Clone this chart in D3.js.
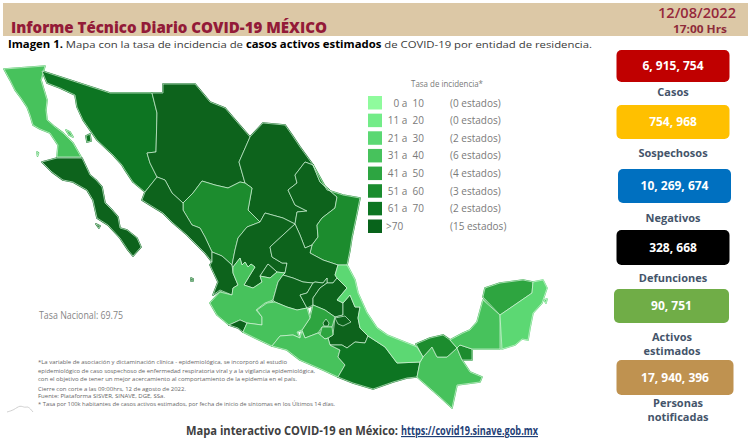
<!DOCTYPE html>
<html lang="es"><head><meta charset="utf-8">
<script src="https://cdn.jsdelivr.net/npm/d3@7/dist/d3.min.js"></script>
<style>html,body{margin:0;padding:0;background:#fff}svg{display:block}text{font-family:"Open Sans",sans-serif}</style>
</head><body><svg id="c" width="750" height="445"><defs><filter id="soft" x="-2%" y="-2%" width="104%" height="104%"><feGaussianBlur stdDeviation="0.45"/></filter></defs></svg>
<script>
// ---- data ----
const headerTitle = "Informe Técnico Diario COVID-19 MÉXICO";
const reportDate = "12/08/2022";
const reportHour = "17:00 Hrs";
const legendTitle = "Tasa de incidencia*";
const legendRanges = ["0 a  10","11 a  20","21 a  30","31 a  40","41 a  50","51 a  60","61 a  70",">70"];
const legendCounts = [0,0,2,6,4,3,2,15];
const legendColors = ["#8ffb9d","#73ec88","#5bd873","#47c25c","#2da541","#1a8c2e","#0d7522","#08631b"];
const nationalRate = "Tasa Nacional: 69.75";
const footerText = "Mapa interactivo COVID-19 en México:";
const footerLink = "https://covid19.sinave.gob.mx";
const cardValues = ["6, 915, 754","754, 968","10, 269, 674","328, 668","90, 751","17, 940, 396"];
const cardLabels = [["Casos"],["Sospechosos"],["Negativos"],["Defunciones"],["Activos","estimados"],["Personas","notificadas"]];
const cardColors = ["#c00000","#ffc000","#0070c0","#000000","#70ad47","#bf9250"];
const notes = [
 "*La variable de asociación y dictaminación clínica - epidemiológica, se incorporó al estudio",
 "epidemiológico de caso sospechoso de enfermedad respiratoria viral y a la vigilancia epidemiológica,",
 "con el objetivo de tener un mejor acercamiento al comportamiento de la epidemia en el país.",
 "Cierre con corte a las 09:00hrs, 12 de agosto de 2022.",
 "Fuente: Plataforma SISVER, SINAVE, DGE, SSa.",
 "* Tasa por 100k habitantes de casos activos estimados, por fecha de inicio de síntomas en los Últimos 14 días."
];
// Map geometry: quantized rings with a transform to lon/lat, TopoJSON style
const mapTransform = {scale:[0.0556,-0.054], translate:[-117.5,36.24]};
const stateNames = ["Baja California","Baja California Sur","Sonora","Chihuahua","Coahuila","Nuevo León","Tamaulipas","Durango","Sinaloa","Nayarit","Zacatecas","Aguascalientes","San Luis Potosí","Jalisco","Colima","Guanajuato","Querétaro","Hidalgo","Puebla","Tlaxcala","México","Morelos","Ciudad de México","Michoacán","Guerrero","Oaxaca","Chiapas","Tabasco","Campeche","Yucatán","Quintana Roo","Veracruz"];
const stateLevels = [3,7,6,7,7,7,5,5,7,7,7,7,7,3,7,7,7,7,7,7,4,4,7,3,3,6,3,5,3,4,2,2];
const stateRings = [
 [[[4,69],[45,66],[41,80],[44,90],[47,100],[46,110],[47,120],[55,127],[63,133],[73,143],[77,150],[81,157],[57,157],[58,145],[50,133],[40,129],[33,125],[30,115],[27,107],[21,98],[15,90],[10,80]],[[66,130],[70,132],[73,137],[69,135]],[[37,152],[38.5,153],[37.5,156]]],
 [[[42,162],[57,158],[82,158],[90,175],[96,180],[102,187],[105,203],[112,210],[118,217],[120,228],[127,230],[137,238],[141,247],[133,256],[128,250],[120,238],[108,225],[97,218],[93,200],[87,190],[73,182],[63,180],[52,172]],[[96,224],[100,226],[99,228]]],
 [[[42,71],[110,93],[152,93],[157,113],[156,152],[147,153],[150,163],[157,177],[145,192],[133,182],[125,170],[122,165],[113,155],[97,140],[90,130],[83,120],[77,107],[75,95],[60,88],[47,83]],[[86,136],[90,134],[91,141],[87,142]]],
 [[[152,93],[163,93],[163,84],[195,84],[210,102],[225,108],[237,122],[250,137],[239,162],[245,183],[240,182],[228,188],[215,185],[202,181],[193,193],[183,203],[172,193],[165,180],[157,177],[150,163],[147,153],[156,152],[157,113]]],
 [[[250,137],[263,123],[285,125],[292,135],[300,147],[313,165],[305,162],[295,175],[297,183],[288,190],[295,205],[307,211],[297,212],[295,224],[283,218],[265,213],[260,222],[248,210],[252,188],[245,183],[239,162]]],
 [[[313,165],[320,182],[337,197],[335,208],[322,218],[317,225],[318,237],[312,245],[305,248],[300,235],[295,224],[297,212],[307,211],[295,205],[288,190],[297,183],[295,175],[305,162]]],
 [[[313,165],[323,183],[327,190],[343,195],[360,198],[357,213],[352,237],[350,250],[347,265],[338,265],[323,260],[310,253],[312,245],[318,237],[317,225],[322,218],[335,208],[337,197],[320,182]]],
 [[[183,203],[193,193],[202,181],[215,185],[228,188],[240,182],[245,183],[252,188],[248,210],[260,222],[247,227],[238,238],[235,250],[232,265],[222,256],[212,252],[205,237],[200,228],[192,225],[183,210]]],
 [[[145,192],[157,177],[165,180],[172,193],[183,203],[183,210],[192,225],[200,228],[205,237],[212,252],[212,262],[205,253],[187,235],[173,223],[163,213],[150,205],[142,200]]],
 [[[212,262],[212,252],[222,256],[232,265],[233,273],[238,285],[233,288],[232,295],[220,290],[213,295],[218,282],[210,265]],[[191,278],[193,279],[193,281],[191,281]]],
 [[[260,222],[265,213],[283,218],[295,224],[283,235],[270,247],[272,257],[282,263],[287,263],[285,273],[277,272],[268,264],[260,276],[262,282],[253,288],[244,285],[250,275],[255,267],[251,264],[248,267],[245,262],[242,265],[240,258],[233,267],[232,265],[235,250],[238,238],[247,227]]],
 [[[268,264],[277,272],[270,278],[260,276]]],
 [[[295,224],[300,235],[305,248],[312,245],[310,253],[323,260],[338,265],[335,275],[337,278],[333,283],[327,283],[327,278],[323,283],[315,282],[313,283],[303,282],[293,278],[283,275],[285,273],[287,263],[282,263],[272,257],[270,247],[283,235]]],
 [[[233,267],[240,258],[242,265],[245,262],[248,267],[251,264],[255,267],[250,275],[244,285],[253,288],[262,282],[260,276],[270,278],[277,272],[285,273],[283,275],[278,282],[273,300],[265,303],[256,310],[262,317],[262,325],[247,323],[240,320],[229,325],[217,315],[210,303],[220,292],[232,295],[233,288],[238,285],[233,273]]],
 [[[229,325],[240,320],[247,323],[243,332],[238,328]]],
 [[[283,275],[293,278],[303,282],[313,283],[307,293],[300,295],[307,308],[297,310],[287,307],[275,302],[273,300],[278,282]]],
 [[[313,283],[315,282],[323,283],[327,278],[327,283],[320,288],[313,298],[313,305],[307,308],[300,295],[307,293]]],
 [[[327,283],[333,283],[337,278],[347,288],[337,300],[343,303],[343,315],[335,317],[325,310],[313,305],[313,298],[320,288]]],
 [[[350,295],[355,307],[360,307],[358,318],[360,328],[368,336],[365,343],[355,342],[347,348],[342,345],[330,345],[328,338],[333,335],[335,317],[343,315],[343,303]]],
 [[[335,318],[345,316],[351,322],[343,326],[338,324]]],
 [[[313,305],[325,310],[335,317],[332,327],[322,327],[318,333],[305,338],[302,330],[310,318]]],
 [[[322,327],[332,327],[333,335],[328,338],[325,339],[320,335]]],
 [[[323,323],[326,319],[329,323],[328,326],[324,326]]],
 [[[257,310],[267,303],[275,302],[287,307],[297,310],[307,308],[310,318],[302,330],[297,332],[300,338],[293,335],[280,336],[272,346],[255,338],[243,332],[247,323],[262,325],[262,317]]],
 [[[272,346],[280,336],[293,335],[300,338],[302,331],[305,338],[318,333],[325,339],[328,338],[330,345],[340,350],[338,357],[345,365],[338,377],[323,370],[300,360],[287,350]]],
 [[[330,345],[342,345],[347,348],[355,342],[365,343],[368,336],[385,347],[397,363],[420,362],[417,377],[407,378],[393,382],[373,389],[353,383],[338,377],[345,365],[338,357],[340,350]]],
 [[[420,362],[423,357],[432,347],[437,357],[447,357],[457,348],[462,360],[470,372],[482,377],[480,382],[457,385],[452,408],[440,397],[417,377]]],
 [[[416,344],[430,338],[443,335],[450,340],[457,348],[447,357],[437,357],[432,347],[423,357]],[[460,345],[472,349],[472,360],[462,360],[457,348]]],
 [[[450,340],[463,333],[470,330],[477,322],[483,300],[500,315],[500,349],[472,349],[460,345],[457,348]]],
 [[[483,297],[485,288],[500,283],[523,280],[533,282],[532,293],[500,315]]],
 [[[533,282],[543,280],[547,288],[542,303],[533,313],[530,328],[528,340],[522,339],[515,345],[502,349],[500,315],[532,293]],[[544,300],[547,299],[546,303]]],
 [[[338,265],[347,265],[355,280],[358,293],[367,313],[377,328],[387,335],[407,343],[417,347],[423,357],[420,362],[397,363],[385,347],[368,336],[360,328],[358,318],[360,307],[355,307],[350,295],[343,303],[337,300],[347,288],[337,278],[335,275]]]
];
const logoPeaks = [[7,412],[14,410],[20,405],[25,408],[28,406],[33,412]];

// ---- scales ----
const W = 750, H = 445;
const lon = q => mapTransform.translate[0] + q*mapTransform.scale[0];
const lat = q => mapTransform.translate[1] + q*mapTransform.scale[1];
const xGeo = d3.scaleLinear().domain([lon(0),lon(W)]).range([0,W]);
const yGeo = d3.scaleLinear().domain([lat(0),lat(H)]).range([0,H]);
const geoPath = d3.geoPath(d3.geoTransform({point(a,b){this.stream.point(xGeo(a),yGeo(b));}}));
const features = stateRings.map((rings,i)=>({type:"Feature",properties:{name:stateNames[i],level:stateLevels[i]},
  geometry:{type:"MultiPolygon",coordinates:rings.map(r=>[r.concat([r[0]]).map(p=>[lon(p[0]),lat(p[1])])])}}));
const fillScale = d3.scaleOrdinal().domain(d3.range(legendColors.length)).range(legendColors);
const legendY = d3.scalePoint().domain(d3.range(legendRanges.length)).range([96,219.5]);

const svg = d3.select("#c");
// header
svg.append("rect").attr("x",3).attr("y",3).attr("width",745).attr("height",33).attr("fill","#dcc8a6");
const txt = (x,y,s,size,weight,fill,anchor,tl)=>{
  const t = svg.append("text").attr("x",x).attr("y",y).text(s).attr("font-size",size).attr("font-weight",weight).attr("fill",fill).attr("text-anchor",anchor||"start");
  if(tl) t.attr("textLength",tl).attr("lengthAdjust","spacingAndGlyphs");
  return t;
};
txt(11,33,headerTitle,15,800,"#931a38","start",316);
txt(736,18,reportDate,14.5,600,"#96283c","end",78);
txt(727,33,reportHour,11,700,"#8e2b3a","end",54);
// subtitle
const sub = svg.append("text").attr("x",8).attr("y",47.5).attr("font-size",9.8).attr("fill","#3a3a3a").attr("textLength",584).attr("lengthAdjust","spacingAndGlyphs");
sub.append("tspan").attr("font-weight",700).attr("fill","#000").text("Imagen 1.");
sub.append("tspan").text(" Mapa con la tasa de incidencia de ");
sub.append("tspan").attr("font-weight",700).attr("fill","#000").text("casos activos estimados");
sub.append("tspan").text(" de COVID-19 por entidad de residencia.");
// map: under-layer closes the seams, then the fills and thin light borders
const mapG = svg.append("g").attr("filter","url(#soft)");
mapG.append("g").selectAll("path").data(features).join("path")
  .attr("d",geoPath).attr("fill",d=>fillScale(d.properties.level))
  .attr("stroke",d=>fillScale(d.properties.level)).attr("stroke-width",1.6).attr("stroke-linejoin","round");
mapG.append("g").selectAll("path").data(features).join("path")
  .attr("d",geoPath).attr("fill",d=>fillScale(d.properties.level))
  .attr("stroke","#d5f3da").attr("stroke-width",0.7).attr("stroke-linejoin","round");
// legend
txt(447,87,legendTitle,8.5,400,"#7a7a7a","middle",72);
const lg = svg.append("g").selectAll("g").data(legendRanges).join("g");
lg.append("rect").attr("x",368).attr("y",(d,i)=>legendY(i)).attr("width",14).attr("height",13.5).attr("fill",(d,i)=>legendColors[i]);
lg.append("text").attr("x",(d,i)=>i===7?386:424).attr("y",(d,i)=>legendY(i)+10.5).attr("text-anchor",(d,i)=>i===7?"start":"end")
  .attr("font-size",10).attr("fill","#7a7a7a").style("white-space","pre").text(d=>d);
lg.append("text").attr("x",450).attr("y",(d,i)=>legendY(i)+10.5).attr("font-size",10).attr("fill","#7a7a7a")
  .text((d,i)=>`(${legendCounts[i]} estados)`);
// national rate
txt(39,318.5,nationalRate,10,400,"#858585","start",84);
// notes
const noteY = [364,372.5,381,390.5,398,406];
const noteW = [249,277,259,148,127,297];
notes.forEach((s,i)=>txt(38,noteY[i],s,5.6,400,"#666","start",noteW[i]));
// logo
svg.append("path").attr("d",d3.line().curve(d3.curveBasis)(logoPeaks)).attr("fill","none").attr("stroke","#c4c4c4").attr("stroke-width",0.8);
// footer
txt(186,435,footerText,11.5,700,"#404040","start",212);
txt(401,435,footerLink,11.5,700,"#1f3f77","start",137).attr("text-decoration","underline");
// cards
const cardX=[616.5,616.5,618,616.5,614,616.5], cardY=[50,105,169,230,289,360], cardW=[113,113,113,113,115,117], cardH=[32,34,34,35,34,35];
const labY=[[95.5],[157],[222],[282],[341,355],[407,421]], labX=[673,673,673,673,672,678];
svg.append("g").selectAll("rect").data(cardValues).join("rect")
  .attr("x",(d,i)=>cardX[i]).attr("y",(d,i)=>cardY[i]).attr("width",(d,i)=>cardW[i]).attr("height",(d,i)=>cardH[i]).attr("rx",5)
  .attr("fill",(d,i)=>cardColors[i]);
svg.append("g").selectAll("text").data(cardValues).join("text")
  .attr("x",(d,i)=>cardX[i]+cardW[i]/2).attr("y",(d,i)=>cardY[i]+cardH[i]/2+4.2).attr("text-anchor","middle")
  .attr("font-size",12).attr("font-weight",700).attr("fill","#fff").text(d=>d);
cardLabels.forEach((ls,i)=>ls.forEach((s,j)=>txt(labX[i],labY[i][j],s,11,700,"#44546a","middle")));
</script></body></html>
